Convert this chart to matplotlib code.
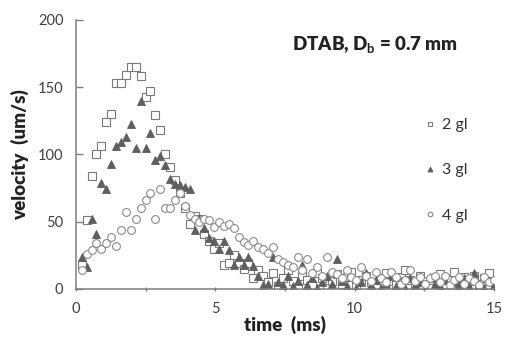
import matplotlib
matplotlib.use('Agg')
import matplotlib.pyplot as plt
from matplotlib.ticker import MultipleLocator

plt.rcParams['font.family'] = ['Lato', 'DejaVu Sans']
plt.rcParams['mathtext.fontset'] = 'custom'
plt.rcParams['mathtext.rm'] = 'Lato'
plt.rcParams['mathtext.bf'] = 'Lato:bold'

# sample times (ms), shared by all three runs
time_ms = [0.21, 0.386, 0.562, 0.738, 0.914, 1.09, 1.266, 1.442, 1.618, 1.794,
           1.97, 2.146, 2.322, 2.498, 2.674, 2.85, 3.026, 3.202, 3.378, 3.554,
           3.73, 3.906, 4.082, 4.258, 4.434, 4.61, 4.786, 4.962, 5.138, 5.314,
           5.49, 5.666, 5.842, 6.018, 6.194, 6.37, 6.546, 6.722, 6.898, 7.074,
           7.25, 7.426, 7.602, 7.778, 7.954, 8.13, 8.306, 8.482, 8.658, 8.834,
           9.01, 9.186, 9.362, 9.538, 9.714, 9.89, 10.066, 10.242, 10.418, 10.594,
           10.77, 10.946, 11.122, 11.298, 11.474, 11.65, 11.826, 12.002, 12.178, 12.354,
           12.53, 12.706, 12.882, 13.058, 13.234, 13.41, 13.586, 13.762, 13.938, 14.114,
           14.29, 14.466, 14.642, 14.818, 14.994]

vel_2gl = [18, 51, 84, 100, 106, 124, 130, 153, 153, 159,
           165, 165, 158, 143, 147, 129, 118, 100, 91, 81,
           71, 60, 48, 54, 52, 41, 36, 30, 34, 18,
           19, 25, 19, 15, 19, 8, 14, 10, 5, 12,
           2, 8, 14, 6, 1, 10, 7, 3, 12, 8,
           1, 6, 11, 4, 9, 13, 2, 7, 10, 5,
           1, 8, 12, 6, 3, 9, 14, 7, 2, 10,
           6, 1, 8, 11, 4, 7, 13, 2, 9, 6,
           10, 3, 8, 12, 5]

vel_3gl = [24, 16, 52, 41, 79, 74, 93, 106, 109, 113,
           123, 105, 140, 105, 116, 96, 99, 92, 82, 78,
           77, 76, 74, 44, 52, 45, 38, 36, 30, 36,
           29, 18, 24, 18, 24, 17, 10, 3, 4, 24,
           5, 3, 10, 2, 6, 18, 3, 8, 1, 5,
           10, 4, 22, 6, 2, 9, 1, 5, 12, 3,
           7, 1, 4, 10, 2, 6, 1, 8, 3, 5,
           1, 9, 4, 2, 7, 1, 5, 3, 8, 2,
           12, 4, 1, 6, 3]

vel_4gl = [14, 26, 29, 34, 30, 34, 39, 32, 44, 57,
           44, 52, 60, 66, 71, 52, 74, 60, 60, 66,
           71, 62, 55, 52, 50, 52, 51, 46, 50, 47,
           48, 45, 39, 35, 33, 36, 31, 30, 27, 31,
           22, 20, 18, 16, 24, 14, 22, 12, 16, 10,
           24, 13, 11, 8, 14, 9, 7, 16, 10, 6,
           13, 8, 5, 13, 9, 4, 7, 14, 6, 9,
           4, 8, 10, 5, 10, 3, 7, 9, 4, 8,
           6, 3, 9, 5, 7]

fig = plt.figure(figsize=(5.06, 3.38), dpi=100)
ax = fig.add_axes([0.150, 0.145, 0.826, 0.796])

ax.plot(time_ms, vel_2gl, linestyle='none', marker='s', markersize=5.6,
        markerfacecolor='white', markeredgecolor='#7a7a7a', markeredgewidth=0.8, label='2 gl')
ax.plot(time_ms, vel_3gl, linestyle='none', marker='^', markersize=6,
        markerfacecolor='#5f5f5f', markeredgecolor='#5f5f5f', markeredgewidth=0.6, label='3 gl')
ax.plot(time_ms, vel_4gl, linestyle='none', marker='o', markersize=5.6,
        markerfacecolor='white', markeredgecolor='#8a8a8a', markeredgewidth=0.8, label='4 gl')

ax.set_xlim(0, 15)
ax.set_ylim(0, 200)
ax.xaxis.set_major_locator(MultipleLocator(5))
ax.xaxis.set_minor_locator(MultipleLocator(2.5))
ax.yaxis.set_major_locator(MultipleLocator(50))

for side in ['top', 'right']:
    ax.spines[side].set_visible(False)
for side in ['left', 'bottom']:
    ax.spines[side].set_color('#7f7f7f')
    ax.spines[side].set_linewidth(1.1)

ax.tick_params(axis='y', direction='in', length=5, width=1, color='#7f7f7f',
               labelsize=10.5, labelcolor='#404040', pad=9)
ax.tick_params(axis='x', which='both', direction='inout', length=3, width=1,
               color='#7f7f7f', labelsize=10.5, labelcolor='#404040', pad=8)

ax.set_xlabel('time  (ms)', fontsize=13.5, fontweight='heavy', color='#222222', labelpad=0)
ax.set_ylabel('velocity  (um/s)', fontsize=13.5, fontweight='heavy', color='#222222', labelpad=6)

fig.text(0.742, 0.865, r'DTAB, D$_\mathbf{b}$ = 0.7 mm', fontsize=13.5,
         fontweight='heavy', color='#222222', ha='center', va='center')

leg = ax.legend(loc='upper left', bbox_to_anchor=(0.827, 0.67), bbox_transform=fig.transFigure,
                frameon=False, fontsize=11.5, markerscale=0.6, labelspacing=1.95,
                handlelength=0.6, handletextpad=0.45, borderaxespad=0)
for txt in leg.get_texts():
    txt.set_color('#333333')

fig.savefig('out.png', dpi=100)
